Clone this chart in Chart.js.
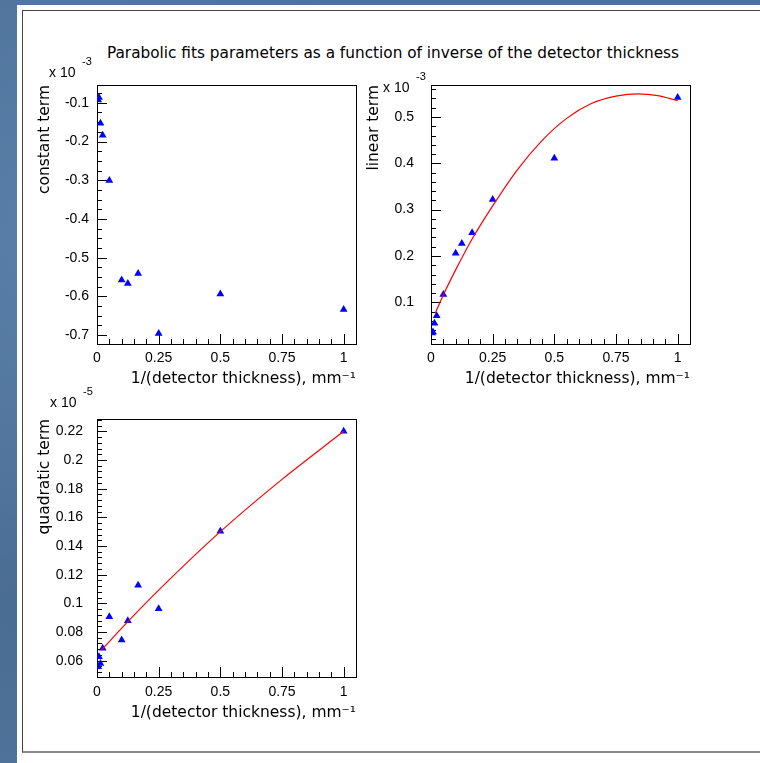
<!DOCTYPE html>
<html>
<head>
<meta charset="utf-8">
<script src="https://cdn.jsdelivr.net/npm/chart.js@4.4.0/dist/chart.umd.min.js"></script>
<style>
  html, body { margin: 0; padding: 0; }
  body {
    width: 760px; height: 763px; overflow: hidden; position: relative;
    background: radial-gradient(circle at 10% 30%, #5a7fa8 0, rgba(90,127,168,0) 40%),
                radial-gradient(circle at 5% 80%, #4a6c93 0, rgba(74,108,147,0) 35%),
                linear-gradient(180deg, #4d7199, #5479a1);
  }
  #panel { position: absolute; left: 17px; top: 5px; width: 760px; height: 770px; background: #fff; }
  #frame {
    position: absolute; left: 22px; top: 10px; width: 760px; height: 740px; background: #fff;
    border-left: 1px solid #444; border-top: 1px solid #444; border-bottom: 2px solid #8a8a8a;
  }
  #title {
    position: absolute; left: 0; width: 786px; top: 44px; text-align: center;
    font: 15.3px "DejaVu Sans"; line-height: 18px; color: #000;
  }
  .box { position: absolute; }
</style>
</head>
<body>
<div id="panel"></div>
<div id="frame"></div>
<div id="title">Parabolic fits parameters as a function of inverse of the detector thickness</div>
<div class="box" style="left:20px;top:35px"><canvas id="constChart" width="345" height="360"></canvas></div>
<div class="box" style="left:355px;top:35px"><canvas id="linearChart" width="345" height="360"></canvas></div>
<div class="box" style="left:20px;top:370px"><canvas id="quadChart" width="345" height="360"></canvas></div>
<script>
// 1/(detector thickness), mm^-1
const invThickness = [0.005, 0.008, 0.014, 0.023, 0.05, 0.1, 0.125, 0.1667, 0.25, 0.5, 1];

// fit parameters (axis units: x10^-3, x10^-3, x10^-5)
const constTerm = [-0.093, -0.086, -0.153, -0.184, -0.301, -0.558, -0.567, -0.541, -0.696, -0.594, -0.634];
const linearTerm = [0.034, 0.036, 0.055, 0.071, 0.117, 0.206, 0.227, 0.250, 0.322, 0.411, 0.542];
const quadTerm = [0.0558, 0.0628, 0.0581, 0.0686, 0.0907, 0.0744, 0.0879, 0.1126, 0.0963, 0.1502, 0.220];

// red fit curves
const linearFitX = [0.018, 0.05, 0.1, 0.165, 0.25, 0.35, 0.45, 0.55, 0.65, 0.75, 0.84, 0.92, 1.0];
const linearFitY = [0.077, 0.116, 0.170, 0.235, 0.308, 0.386, 0.449, 0.497, 0.529, 0.545, 0.550, 0.546, 0.535];
const quadFitX = [0.018, 0.125, 0.25, 0.5, 0.75, 1.0];
const quadFitY = [0.0674, 0.0872, 0.1092, 0.150, 0.1865, 0.220];

// tick labels
const xTickValues = [0, 0.25, 0.5, 0.75, 1];
const constTicks = [-0.7, -0.6, -0.5, -0.4, -0.3, -0.2, -0.1];
const linearTicks = [0.1, 0.2, 0.3, 0.4, 0.5];
const quadTicks = [0.06, 0.08, 0.1, 0.12, 0.14, 0.16, 0.18, 0.2, 0.22];

const tickFont = { family: "Liberation Sans", size: 14 };
const titleFont = { family: "DejaVu Sans", size: 15.5 };

const toPoints = (xs, ys) => xs.map((x, i) => ({ x: x, y: ys[i] }));

// ROOT-like frame with inward ticks and the "x 10^n" multiplier
const rootFrame = {
	id: "rootFrame",
	beforeDatasetsDraw(chart, args, opts) {
		const { ctx, chartArea: a, scales } = chart;
		const x = scales.x, y = scales.y;
		ctx.save();
		ctx.strokeStyle = "#000";
		ctx.lineWidth = 1;
		ctx.beginPath();
		const isMajor = (v, step) => Math.abs(v / step - Math.round(v / step)) < 1e-6;
		for (let i = Math.ceil(x.min / opts.xMinor - 1e-6); i * opts.xMinor <= x.max + 1e-9; i++) {
			const v = i * opts.xMinor;
			const px = Math.round(x.getPixelForValue(v)) + 0.5;
			const len = isMajor(v, opts.xMajor) ? 10 : 5;
			ctx.moveTo(px, a.bottom);
			ctx.lineTo(px, a.bottom - len);
		}
		for (let i = Math.ceil(y.min / opts.yMinor - 1e-6); i * opts.yMinor <= y.max + 1e-9; i++) {
			const v = i * opts.yMinor;
			const py = Math.round(y.getPixelForValue(v)) + 0.5;
			const len = isMajor(v, opts.yMajor) ? 10 : 5;
			ctx.moveTo(a.left, py);
			ctx.lineTo(a.left + len, py);
		}
		ctx.stroke();
		ctx.strokeRect(Math.round(a.left) + 0.5, Math.round(a.top) + 0.5, Math.round(a.width), Math.round(a.height));

		const [dx, dy] = opts.expAt;
		ctx.fillStyle = "#000";
		ctx.textBaseline = "alphabetic";
		ctx.textAlign = "left";
		ctx.font = '14px "Liberation Sans"';
		ctx.fillText("x 10", a.left + dx, a.top + dy);
		ctx.font = '11px "Liberation Sans"';
		ctx.fillText(opts.exp, a.left + dx + 33, a.top + dy - 12);
		ctx.restore();
	},
};

function makeChart(id, cfg) {
	return new Chart(document.getElementById(id), {
		type: "scatter",
		data: { datasets: cfg.datasets },
		options: {
			responsive: false,
			animation: false,
			layout: { padding: cfg.padding },
			plugins: {
				legend: { display: false },
				tooltip: { enabled: false },
				rootFrame: cfg.frame,
			},
			scales: {
				x: {
					type: "linear",
					min: 0,
					max: 1.05,
					grid: { display: false, drawTicks: false },
					border: { display: false },
					afterBuildTicks: (s) => { s.ticks = xTickValues.map((v) => ({ value: v })); },
					afterFit: (s) => { s.height = cfg.xHeight; },
					ticks: { autoSkip: false, maxRotation: 0, padding: cfg.xPad, color: "#000", font: tickFont, callback: (v) => String(v) },
					title: {
						display: true,
						text: "1/(detector thickness), mm⁻¹",
						align: "end",
						color: "#000",
						font: titleFont,
						padding: { top: 0, bottom: cfg.xTitlePad },
					},
				},
				y: {
					type: "linear",
					min: cfg.yMin,
					max: cfg.yMax,
					grid: { display: false, drawTicks: false },
					border: { display: false },
					afterBuildTicks: (s) => { s.ticks = cfg.yTicks.map((v) => ({ value: v })); },
					afterFit: (s) => { s.width = cfg.yWidth; },
					ticks: { autoSkip: false, padding: cfg.yPad, color: "#000", font: tickFont, callback: (v) => String(v) },
					title: {
						display: true,
						text: cfg.yTitle,
						align: "end",
						color: "#000",
						font: titleFont,
						padding: { top: cfg.yTitlePad, bottom: 0 },
					},
				},
			},
		},
		plugins: [rootFrame],
	});
}

const markerStyle = {
	pointStyle: "triangle",
	pointRadius: 4.5,
	backgroundColor: "#0000ff",
	borderColor: "#0000ff",
	borderWidth: 0,
	showLine: false,
};

const fitStyle = {
	showLine: true,
	borderColor: "#ff0000",
	borderWidth: 1.2,
	pointRadius: 0,
	cubicInterpolationMode: "monotone",
};

makeChart("constChart", {
	datasets: [{ label: "constant term", data: toPoints(invThickness, constTerm), ...markerStyle }],
	padding: { top: 50, right: 9, left: 0, bottom: 0 },
	xHeight: 51, xPad: 6, xTitlePad: 7,
	yWidth: 77, yPad: 8, yTitlePad: 16,
	yMin: -0.723, yMax: -0.054, yTicks: constTicks,
	yTitle: "constant term",
	frame: { xMinor: 0.05, xMajor: 0.25, yMinor: 0.025, yMajor: 0.1, exp: "-3", expAt: [-48, -8] },
});

makeChart("linearChart", {
	datasets: [
		{ label: "fit", data: toPoints(linearFitX, linearFitY), ...fitStyle },
		{ label: "linear term", data: toPoints(invThickness, linearTerm), ...markerStyle },
	],
	padding: { top: 50, right: 10, left: 0, bottom: 0 },
	xHeight: 51, xPad: 6, xTitlePad: 7,
	yWidth: 76, yPad: 17, yTitlePad: 10,
	yMin: 0.010, yMax: 0.569, yTicks: linearTicks,
	yTitle: "linear term",
	frame: { xMinor: 0.05, xMajor: 0.25, yMinor: 0.02, yMajor: 0.1, exp: "-3", expAt: [-48, 7] },
});

makeChart("quadChart", {
	datasets: [
		{ label: "fit", data: toPoints(quadFitX, quadFitY), ...fitStyle },
		{ label: "quadratic term", data: toPoints(invThickness, quadTerm), ...markerStyle },
	],
	padding: { top: 49, right: 9, left: 0, bottom: 0 },
	xHeight: 53, xPad: 7, xTitlePad: 8,
	yWidth: 77, yPad: 14, yTitlePad: 16,
	yMin: 0.0486, yMax: 0.2286, yTicks: quadTicks,
	yTitle: "quadratic term",
	frame: { xMinor: 0.05, xMajor: 0.25, yMinor: 0.004, yMajor: 0.02, exp: "-5", expAt: [-47, -12] },
});
</script>
</body>
</html>
